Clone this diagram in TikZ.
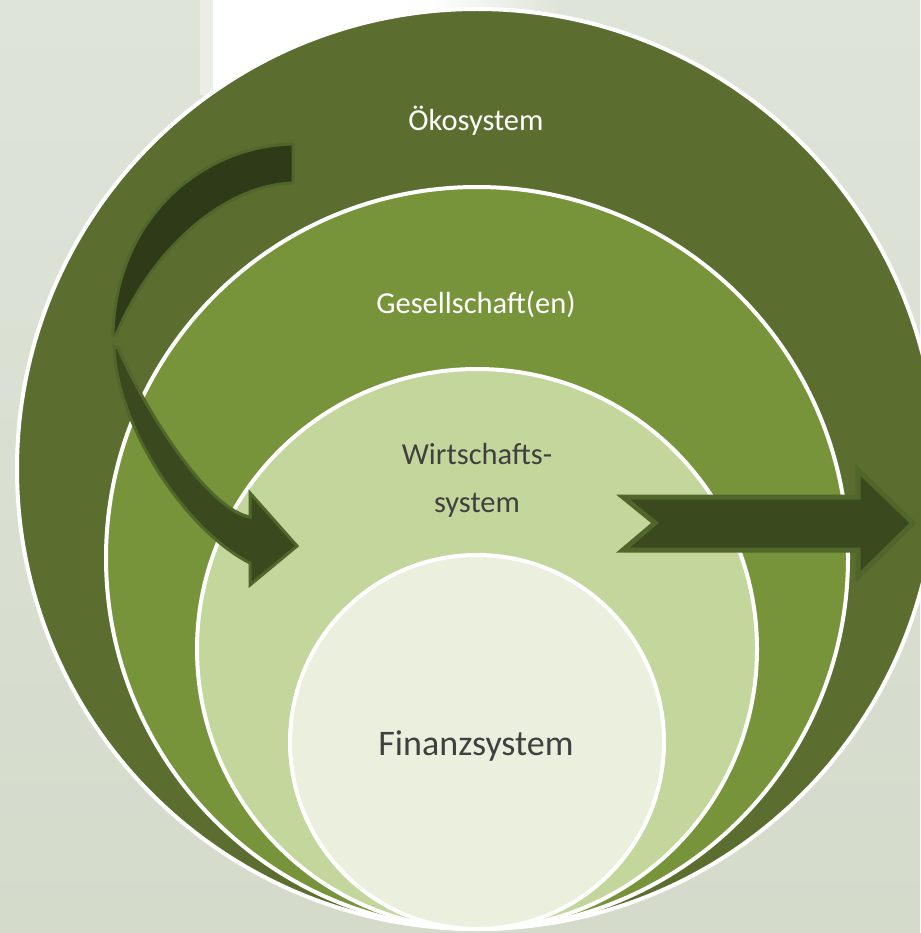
\documentclass[tikz,border=0pt]{standalone}
\usepackage{fontspec}
\setmainfont{Carlito}
\definecolor{bgtop}{HTML}{DEE4D8}
\definecolor{bgbot}{HTML}{D4DBCB}
\definecolor{bgstrip}{HTML}{EAEEE5}
\definecolor{eco}{HTML}{5B6E2F}
\definecolor{ges}{HTML}{77943A}
\definecolor{wirt}{HTML}{C3D69B}
\definecolor{fin}{HTML}{EBF0DE}
\definecolor{arrfront}{HTML}{3A4A1E}
\definecolor{arrback}{HTML}{2F3B18}
\definecolor{arrborder}{HTML}{50662A}
\definecolor{darktext}{HTML}{404040}
\begin{document}
\begin{tikzpicture}[x=1pt,y=-1pt,
  ring/.style={draw=white,line width=4pt},
  arrowbody/.style={fill=arrfront,draw=arrborder,line width=3pt,line join=miter},
  arrowbackpart/.style={fill=arrback,draw=arrborder,line width=3pt,line join=round},
  lighttext/.style={text=white,anchor=base,font=\fontsize{30.5}{36}\selectfont},
  darklabel/.style={text=darktext,anchor=base,font=\fontsize{30.5}{36}\selectfont}]
\useasboundingbox (0,0) rectangle (920,933);
% background
\shade[top color=bgtop,bottom color=bgbot] (0,0) rectangle (920,933);
\fill[bgstrip] (200,0) rectangle (213,95);
\fill[white] (213,0) rectangle (430,95);
\shade[left color=white,right color=bgtop] (430,0) rectangle (560,95);
% nested circles
\draw[ring,fill=eco] (477,469) circle[radius=460];
\draw[ring,fill=ges] (477,558) circle[radius=371];
\draw[ring,fill=wirt] (477,649) circle[radius=280];
\draw[ring,fill=fin] (477,742) circle[radius=187];
% curved arrow: back part
\draw[arrowbackpart] (293,144) .. controls (200,146) and (115,220) .. (113,335)
  -- (116,335) .. controls (152,248) and (225,185) .. (293,183) -- cycle;
% curved arrow: front part with head
\draw[arrowbody] (114,346) .. controls (116,425) and (185,530) .. (250,563)
  -- (250,585) -- (297,546) -- (250,493) -- (250,517)
  .. controls (210,510) and (150,420) .. (118,348) -- cycle;
% straight arrow
\draw[arrowbody,line width=5pt] (623,497) -- (858,497) -- (858,470) -- (913,523)
  -- (858,577) -- (858,550) -- (623,550) -- (655,523) -- cycle;
% labels
\node[lighttext] (oko) at (476,131) {Ökosystem};
\node[lighttext] (gesell) at (476,313) {Gesellschaft(en)};
\node[darklabel] (wirt1) at (477,464) {Wirtschafts-};
\node[darklabel] (wirt2) at (477,512) {system};
\node[text=darktext,anchor=base,font=\fontsize{36}{42}\selectfont] (finanz) at (476,755) {Finanzsystem};
\end{tikzpicture}
\end{document}
